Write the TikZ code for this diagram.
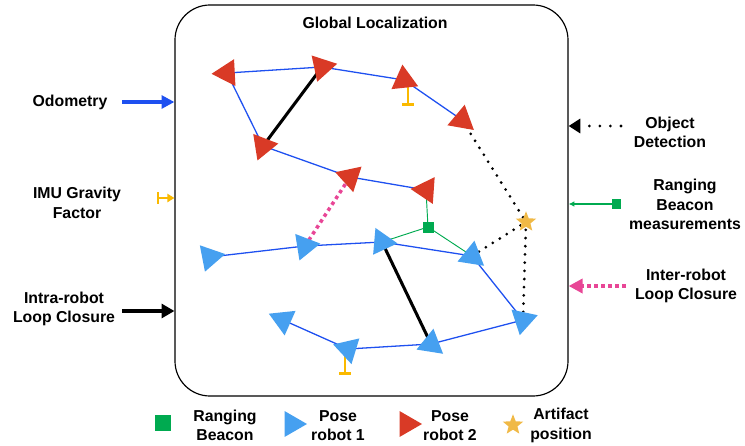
\documentclass[tikz,border=0pt]{standalone}
\usepackage{fontspec}
\setmainfont{Liberation Sans}
\usetikzlibrary{shapes.geometric, arrows.meta, backgrounds}

\definecolor{odoblue}{RGB}{30,80,240}
\definecolor{poseblue}{RGB}{70,160,240}
\definecolor{posered}{RGB}{217,58,38}
\definecolor{bcngreen}{RGB}{0,170,80}
\definecolor{artgold}{RGB}{240,185,70}
\definecolor{imuyellow}{RGB}{250,185,0}
\definecolor{interpink}{RGB}{232,70,150}

\begin{document}
\begin{tikzpicture}[x=0.03cm, y=-0.03cm,
  lbl/.style={font=\fontsize{13.5}{16.5}\selectfont\bfseries, align=center, inner sep=1pt},
  pose/.style={regular polygon, regular polygon sides=3, inner sep=0pt, minimum size=0.93cm},
  rob1/.style={pose, fill=poseblue},
  rob2/.style={pose, fill=posered},
  odo/.style={odoblue, line width=1.1pt},
  intra/.style={black, line width=2.6pt},
  inter/.style={interpink, line width=3pt, dash pattern=on 3pt off 3pt},
  objdet/.style={black, line width=2.6pt, line cap=round, dash pattern=on 0pt off 7pt},
  rng/.style={bcngreen, line width=0.8pt},
  imu/.style={imuyellow, line width=2.5pt, -{Bar[width=10pt, line width=2.5pt]}},
  bcn/.style={rectangle, fill=bcngreen, inner sep=0pt, minimum size=0.33cm},
  art/.style={star, star points=5, star point ratio=2.3, fill=artgold, inner sep=0pt, minimum size=0.64cm}]

  \useasboundingbox (0,0) rectangle (745,446);

  % Rahmen
  \node[draw, line width=1pt, rounded corners=1.05cm,
        minimum width=11.79cm, minimum height=11.73cm] (glob) at (371.5,200.5) {};
  \node[lbl] (title) at (375,23) {Global Localization};

  % Posen robot 2
  \node[rob2, rotate=93]  (red1) at (227,73) {};
  \node[rob2, rotate=-78] (red2) at (322,67) {};
  \node[rob2, rotate=6]   (red3) at (404,80) {};
  \node[rob2, rotate=-10] (red4) at (462,120) {};
  \node[rob2, rotate=-81] (red5) at (263,146) {};
  \node[rob2, rotate=72]  (red6) at (350,177) {};
  \node[rob2, rotate=86]  (red7) at (426,190) {};

  % Posen robot 1
  \node[rob1, rotate=-79]  (blue1) at (210,257) {};
  \node[rob1, rotate=-81]  (blue2) at (305,246) {};
  \node[rob1, rotate=-95]  (blue3) at (382,242) {};
  \node[rob1, rotate=-129] (blue4) at (472,256) {};
  \node[rob1, rotate=-72]  (blue5) at (523,320) {};
  \node[rob1, rotate=-9]   (blue6) at (431,344) {};
  \node[rob1, rotate=73]   (blue7) at (348,349) {};
  \node[rob1, rotate=66]   (blue8) at (283,320) {};

  % Beacon und Artefakt
  \node[bcn] (bcn) at (428,227) {};
  \node[art] (art) at (526,222) {};

  \coordinate (imu1) at (408,106);
  \coordinate (imu2) at (345,375);

  \begin{scope}[on background layer]
    \draw[odo] (red1.center) -- (red2.center) -- (red3.center) -- (red4.center);
    \draw[odo] (red1.center) -- (red5.center) -- (red6.center) -- (red7.center);
    \draw[odo] (blue1.center) -- (blue2.center) -- (blue3.center) -- (blue4.center)
      -- (blue5.center) -- (blue6.center) -- (blue7.center) -- (blue8.center);
    \draw[intra] (red2.center) -- (red5.center);
    \draw[intra] (blue3.center) -- (blue6.center);
    \draw[inter] (blue2.center) -- (red6.center);
    \draw[rng] (bcn.center) -- (red7.center);
    \draw[rng] (bcn.center) -- (blue3.center);
    \draw[rng] (bcn.center) -- (blue4.center);
    \draw[objdet] (red4.center) -- (art.center);
    \draw[objdet] (blue4.center) -- (art.center);
    \draw[objdet] (blue5.center) -- (art.center);
    \draw[imu] (imu1 |- red3.center) -- (imu1);
    \draw[imu] (imu2 |- blue7.center) -- (imu2);
  \end{scope}

  % Eingaenge links
  \node[lbl] (odom) at (70,102) {Odometry};
  \node[lbl] (grav) at (77,203) {IMU Gravity\\Factor};
  \node[lbl] (intlc) at (64,309) {Intra-robot\\Loop Closure};
  \coordinate (odom-s) at (122,102);
  \coordinate (grav-s) at (157,198);
  \coordinate (intlc-s) at (122,311);
  \draw[odoblue, line width=2.8pt, -{Triangle[length=11pt, width=11pt]}]
    (odom-s) -- (odom-s -| glob.west);
  \draw[imuyellow, line width=1.7pt, {Bar[width=10pt]}-{Triangle[length=6pt, width=7pt]}]
    (grav-s) -- (grav-s -| glob.west);
  \draw[black, line width=2.6pt, -{Triangle[length=11pt, width=12pt]}]
    (intlc-s) -- (intlc-s -| glob.west);

  % Eingaenge rechts
  \node[lbl] (objd) at (670,132.5) {Object\\Detection};
  \node[lbl] (rbm) at (685,204.5) {Ranging\\Beacon\\measurements};
  \node[lbl] (irlc) at (686,286) {Inter-robot\\Loop Closure};
  \coordinate (objd-s) at (621,126);
  \coordinate (rbm-s) at (621,204);
  \coordinate (irlc-s) at (626,286);
  \draw[black, line width=2.6pt, line cap=round, dash pattern=on 0pt off 9pt,
        -{Triangle[length=10pt, width=12pt]}]
    (objd-s) -- (objd-s -| glob.east);
  \draw[bcngreen, line width=1.4pt, {Square[length=8pt, width=8pt]}-{Latex[length=5pt, width=5pt]}]
    (rbm-s) -- (rbm-s -| glob.east);
  \draw[interpink, line width=3pt, dash pattern=on 3pt off 3pt,
        -{Triangle[length=12pt, width=12pt]}]
    (irlc-s) -- (irlc-s -| glob.east);

  % Legende
  \node[bcn, minimum size=0.5cm] (lgbcn) at (163,423) {};
  \node[lbl] (lgbcnt) at (225,425.5) {Ranging\\Beacon};
  \node[rob1, rotate=-90, minimum size=0.9cm] (lgb) at (292,424) {};
  \node[lbl] (lgbt) at (338,425.5) {Pose\\robot 1};
  \node[rob2, rotate=-90, minimum size=0.9cm] (lgr) at (407,424) {};
  \node[lbl] (lgrt) at (450,425.5) {Pose\\robot 2};
  \node[art] (lgart) at (513,425) {};
  \node[lbl] (lgartt) at (561,425.5) {Artifact\\position};
\end{tikzpicture}
\end{document}
